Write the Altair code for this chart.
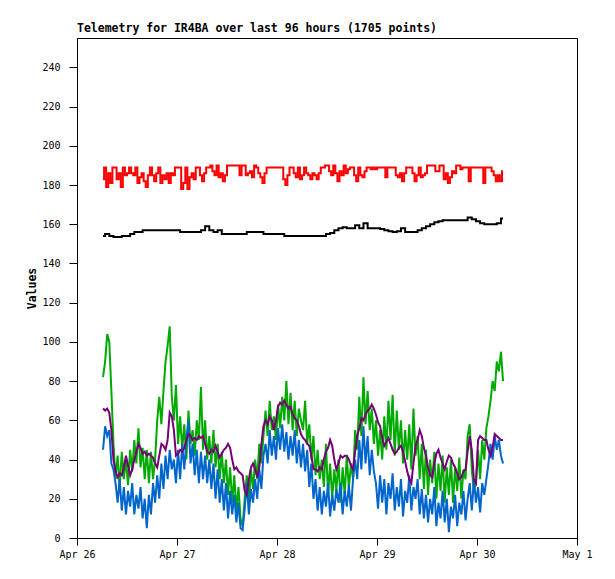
import altair as alt
import pandas as pd

TITLE = "Telemetry for IR4BA over last 96 hours (1705 points)"
START = "2024-04-26 06:15"

# half-hourly samples (193 points each)
red = [183, 189, 179, 186, 181, 189, 189, 183, 186, 179,
       189, 185, 186, 189, 186, 185, 189, 181, 184, 186,
       182, 179, 185, 189, 185, 182, 186, 189, 181, 185,
       183, 186, 181, 186, 185, 189, 189, 189, 178, 181,
       189, 178, 184, 186, 183, 189, 189, 185, 182, 186,
       189, 189, 190, 187, 185, 190, 184, 186, 182, 185,
       190, 190, 190, 190, 190, 190, 185, 190, 190, 185,
       186, 187, 184, 190, 189, 186, 184, 181, 186, 189,
       189, 189, 189, 189, 189, 189, 189, 183, 180, 185,
       189, 189, 186, 184, 189, 183, 185, 189, 186, 185,
       183, 186, 185, 183, 186, 189, 189, 190, 190, 187,
       185, 190, 186, 182, 187, 185, 190, 186, 188, 189,
       189, 185, 182, 189, 185, 184, 187, 189, 189, 188,
       189, 188, 189, 189, 189, 189, 184, 189, 189, 189,
       189, 185, 184, 186, 182, 186, 189, 189, 189, 186,
       182, 185, 189, 184, 185, 186, 190, 190, 190, 190,
       187, 187, 190, 190, 183, 186, 181, 184, 187, 186,
       190, 190, 188, 189, 189, 189, 182, 189, 189, 189,
       189, 189, 189, 181, 189, 189, 189, 187, 185, 182,
       185, 182, 187]

green = [82, 90, 104, 100, 75, 48, 30, 42, 26, 44,
         30, 40, 27, 45, 34, 50, 38, 56, 36, 46,
         30, 45, 28, 44, 30, 40, 60, 72, 58, 75,
         90, 98, 108, 72, 60, 78, 48, 62, 45, 58,
         40, 65, 48, 55, 42, 60, 50, 77, 45, 60,
         40, 52, 38, 55, 36, 48, 30, 44, 28, 40,
         22, 36, 18, 32, 14, 26, 10, 6, 20, 32,
         18, 35, 25, 40, 30, 48, 38, 52, 65, 52,
         70, 55, 62, 50, 68, 56, 72, 60, 80, 58,
         74, 55, 70, 52, 66, 60, 55, 70, 48, 58,
         40, 52, 32, 45, 30, 40, 26, 48, 22, 38,
         20, 35, 24, 40, 18, 36, 22, 42, 25, 38,
         30, 55, 45, 72, 52, 82, 58, 75, 55, 66,
         48, 60, 42, 55, 40, 62, 45, 70, 50, 73,
         42, 65, 45, 60, 38, 55, 40, 58, 35, 66,
         42, 52, 30, 48, 25, 45, 22, 40, 28, 44,
         20, 38, 24, 42, 18, 36, 22, 40, 18, 36,
         24, 41, 20, 35, 30, 52, 58, 35, 24, 28,
         45, 30, 50, 40, 56, 62, 70, 80, 75, 90,
         85, 95, 80]

blue = [45, 57, 52, 55, 38, 35, 28, 18, 30, 14,
        26, 12, 24, 16, 28, 12, 22, 15, 26, 10,
        20, 5, 22, 12, 28, 18, 32, 20, 38, 25,
        42, 30, 45, 35, 40, 28, 45, 30, 48, 35,
        50, 60, 38, 48, 32, 45, 28, 44, 30, 42,
        28, 40, 25, 38, 20, 35, 18, 30, 14, 28,
        10, 24, 12, 22, 8, 18, 5, 4, 15, 28,
        12, 25, 18, 30, 20, 35, 25, 42, 48, 38,
        55, 42, 52, 40, 56, 45, 58, 44, 54, 40,
        52, 42, 55, 38, 50, 36, 48, 34, 45, 26,
        38, 20, 30, 14, 26, 12, 24, 16, 28, 11,
        22, 14, 25, 18, 28, 12, 24, 16, 27, 14,
        30, 40, 30, 50, 35, 57, 38, 52, 32, 45,
        34, 28, 15, 32, 18, 30, 12, 28, 20, 33,
        14, 26, 16, 30, 11, 24, 18, 32, 14, 26,
        20, 30, 12, 25, 10, 22, 8, 20, 12, 26,
        6, 18, 10, 24, 8, 20, 3, 16, 10, 22,
        6, 18, 12, 24, 9, 20, 28, 14, 30, 18,
        26, 13, 28, 22, 30, 38, 48, 40, 52, 45,
        50, 42, 38]

purple = [66, 65, 66, 64, 55, 40, 34, 31, 33, 32,
          36, 42, 37, 32, 35, 40, 44, 48, 46, 43,
          44, 42, 43, 42, 41, 38, 36, 42, 48, 47,
          45, 50, 64, 62, 55, 42, 43, 45, 44, 46,
          50, 53, 52, 50, 51, 50, 52, 51, 52, 48,
          44, 43, 45, 44, 47, 44, 41, 43, 45, 46,
          48, 46, 40, 35, 36, 34, 33, 32, 24, 22,
          30, 36, 38, 35, 31, 36, 48, 57, 60, 58,
          62, 60, 55, 60, 67, 69, 68, 70, 68, 66,
          67, 63, 61, 60, 57, 53, 51, 50, 48, 47,
          42, 35, 35, 34, 36, 35, 40, 44, 46, 50,
          47, 40, 35, 38, 42, 41, 42, 42, 40, 37,
          35, 44, 52, 56, 61, 60, 63, 65, 66, 68,
          66, 63, 59, 57, 51, 47, 49, 51, 48, 45,
          43, 44, 46, 47, 44, 39, 34, 30, 28, 38,
          47, 50, 55, 52, 46, 42, 36, 32, 31, 38,
          43, 45, 41, 38, 35, 39, 42, 41, 38, 36,
          33, 30, 31, 34, 35, 44, 52, 45, 30, 28,
          50, 52, 51, 50, 50, 45, 42, 46, 53, 52,
          51, 50, 50]

# hourly samples (97 points)
black = [154, 155, 154, 153.5, 153.5, 154, 154, 155, 156, 156,
         157, 157, 157, 157, 157, 157, 157, 157, 157, 156,
         156, 156, 156, 156, 157, 159, 157, 156, 157, 155,
         155, 155, 155, 155, 155, 156, 156, 156, 156, 155,
         155, 155, 155, 155, 154, 154, 154, 154, 154, 154,
         154, 154, 154, 154, 155, 155.5, 157, 158, 158.5, 158,
         158, 159.5, 158, 160.5, 158, 158, 158, 157.6, 157, 156.5,
         156, 156.5, 158, 156, 156, 156, 157, 158, 159, 160,
         161, 161.5, 162, 162, 162, 162, 162, 162, 163.5, 162.5,
         161.5, 160.5, 160, 160, 160, 160.5, 163]

Y_TICKS = list(range(0, 241, 20))
X_TICKS = [(4, 26), (4, 27), (4, 28), (4, 29), (4, 30), (5, 1)]


def frame(vals, freq):
    t = pd.date_range(START, periods=len(vals), freq=freq)
    return pd.DataFrame({"time": t.strftime("%Y-%m-%dT%H:%M:%S"), "value": vals})


x_enc = alt.X(
    "time:T",
    scale=alt.Scale(domain=[alt.DateTime(year=2024, month=4, date=26),
                            alt.DateTime(year=2024, month=5, date=1)]),
    axis=alt.Axis(values=[alt.DateTime(year=2024, month=m, date=d) for m, d in X_TICKS],
                  format="%b %-d", title=None, grid=False, tickSize=7,
                  labelPadding=4, labelFlush=False, labelOverlap=False),
)
y_enc = alt.Y(
    "value:Q",
    scale=alt.Scale(domain=[0, 255], nice=False, zero=False),
    axis=alt.Axis(values=Y_TICKS, title="Values", grid=False, tickSize=8,
                  labelPadding=9, titlePadding=4, titleFontWeight="bold",
                  titleFontSize=11.5),
)


def layer(vals, freq, color, interp):
    return alt.Chart(frame(vals, freq)).mark_line(
        color=color, strokeWidth=2, strokeCap="butt", strokeJoin="miter",
        interpolate=interp,
    ).encode(x=x_enc, y=y_enc)


chart = alt.layer(
    layer(red, "30min", "#ff0000", "step"),
    layer(black, "h", "#000000", "step"),
    layer(green, "30min", "#00aa00", "linear"),
    layer(blue, "30min", "#0066cc", "linear"),
    layer(purple, "30min", "#770077", "linear"),
).properties(
    width=500,
    height=500,
    title=alt.TitleParams(TITLE, anchor="start", frame="group",
                          font="DejaVu Sans Mono",
                          fontSize=11.5, fontWeight="bold", color="black",
                          offset=4),
    autosize=alt.AutoSizeParams(type="none"),
    padding={"left": 69, "top": 30, "right": 30, "bottom": 33},
).configure_view(
    stroke="black", strokeWidth=1
).configure_axis(
    domainColor="black", tickColor="black", labelColor="black",
    titleColor="black", labelFont="DejaVu Sans Mono", titleFont="DejaVu Sans Mono",
    labelFontSize=10, domainWidth=1, tickWidth=1,
)

chart.save("out.html", embed_options={"renderer": "svg", "actions": False})
